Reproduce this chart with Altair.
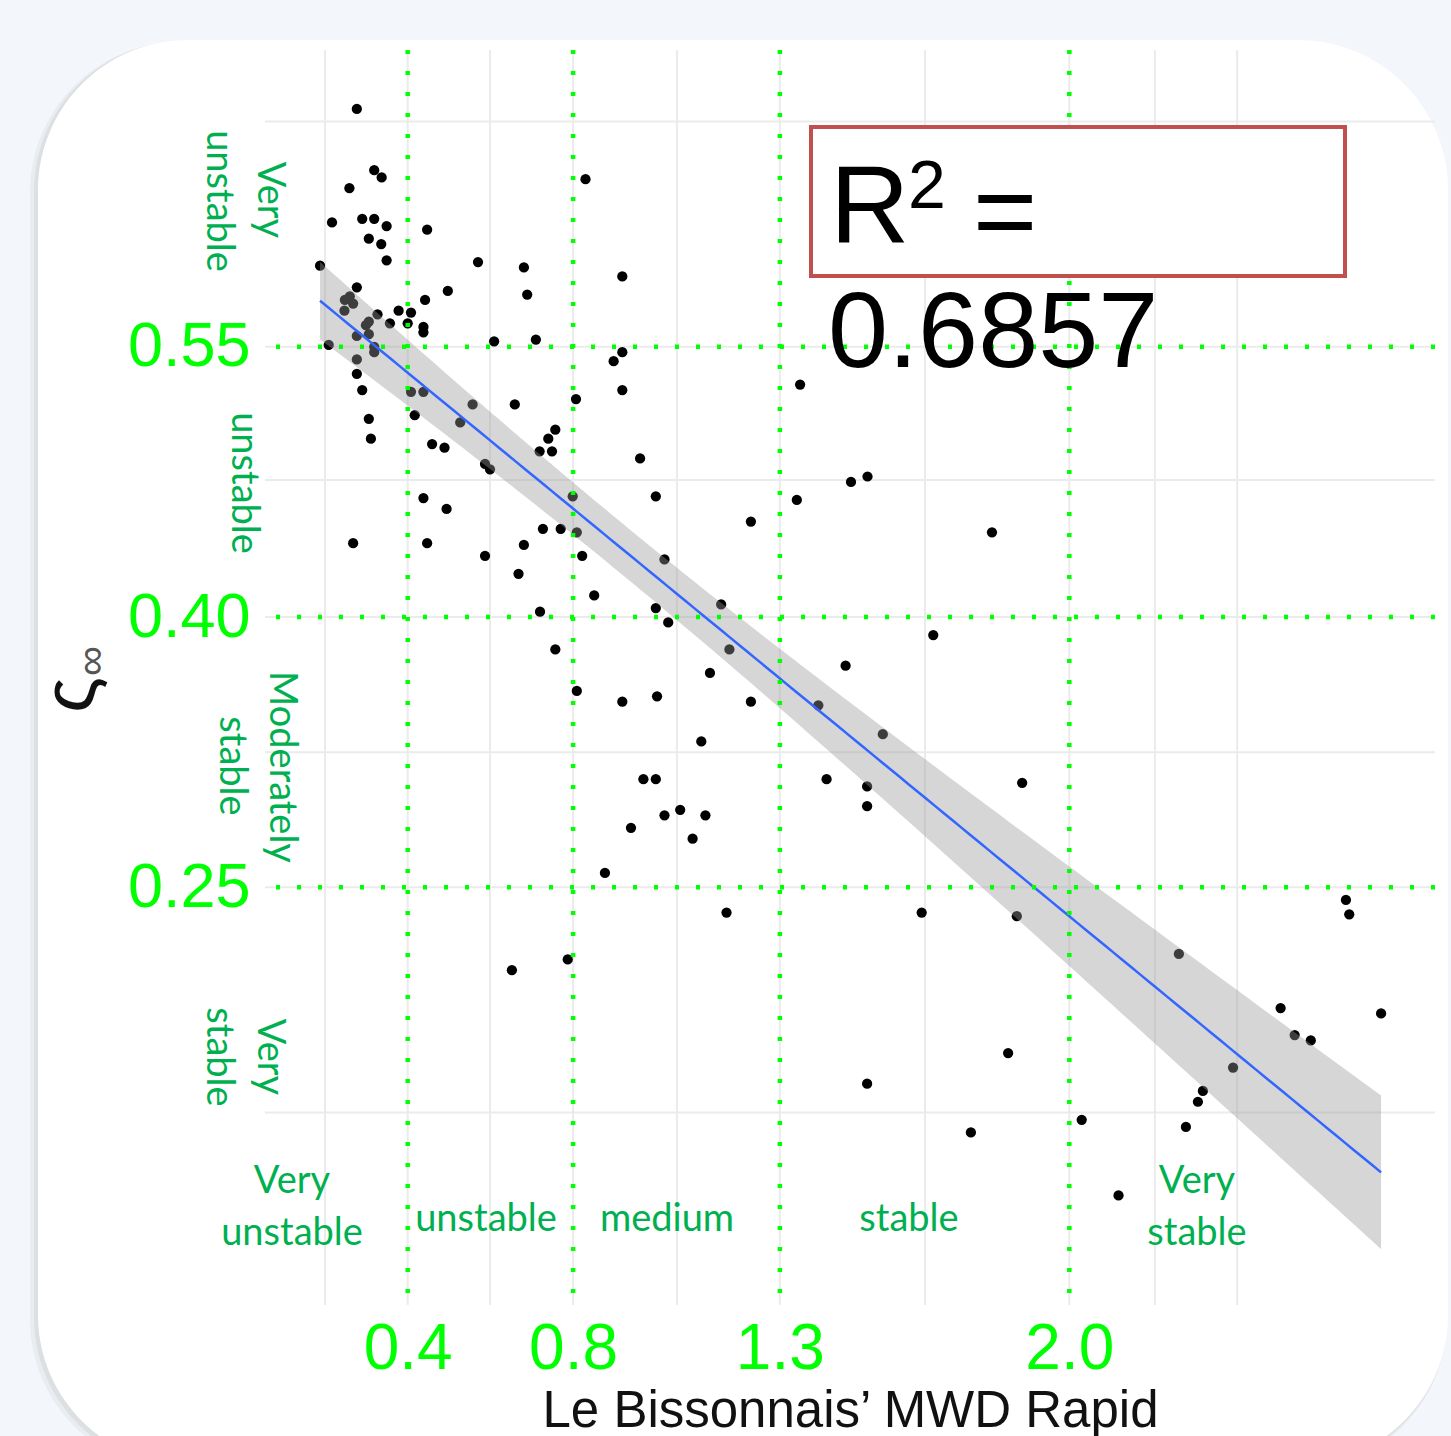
import altair as alt
import pandas as pd
import numpy as np

# ---------------- data ----------------
mwd = [0.277, 0.319, 0.337, 0.259, 0.830, 0.217, 0.290, 0.319, 0.349, 0.447,
       0.306, 0.336, 0.349, 0.570, 0.681, 0.188, 0.919, 0.689, 0.277, 0.497,
       0.442, 0.248, 0.260, 0.268, 0.247, 0.378, 0.408, 0.327, 0.357, 0.400,
       0.438, 0.438, 0.306, 0.299, 0.277, 0.306, 0.209, 0.609, 0.710, 0.319,
       0.319, 0.277, 0.277, 0.290, 0.919, 0.898, 0.919, 0.408, 0.438, 0.807,
       0.659, 0.557, 0.417, 0.527, 0.306, 0.311, 0.459, 0.489, 0.757, 0.740,
       0.719, 0.749, 0.962, 0.587, 0.599, 0.438, 0.799, 1.349, 1.000, 1.472,
       1.512, 1.341, 0.494, 0.268, 0.447, 0.587, 0.681, 0.668, 0.727, 0.770,
       0.809, 0.822, 0.851, 1.000, 0.720, 0.757, 0.809, 0.919, 1.003, 0.970,
       1.000, 0.940, 0.877, 1.230, 1.813, 1.021, 1.030, 1.158, 1.178, 1.671,
       1.459, 1.131, 1.230, 1.393, 1.549, 1.110, 1.413, 1.511, 1.511, 1.886,
       1.021, 1.059, 1.120, 1.089, 0.652, 0.787, 1.171, 1.643, 1.873, 1.852,
       1.511, 1.762, 2.669, 2.677, 2.265, 2.754, 2.511, 2.545, 2.584, 2.396,
       2.323, 2.311, 2.030, 2.282, 2.119]
sinf = [0.682, 0.648, 0.644, 0.638, 0.643, 0.619, 0.621, 0.621, 0.617, 0.615,
        0.610, 0.607, 0.598, 0.597, 0.594, 0.595, 0.589, 0.579, 0.583, 0.581,
        0.576, 0.576, 0.578, 0.574, 0.570, 0.570, 0.569, 0.568, 0.563, 0.563,
        0.561, 0.558, 0.564, 0.562, 0.556, 0.557, 0.551, 0.553, 0.554, 0.550,
        0.547, 0.543, 0.535, 0.526, 0.547, 0.542, 0.526, 0.525, 0.525, 0.521,
        0.518, 0.518, 0.512, 0.508, 0.510, 0.499, 0.496, 0.494, 0.504, 0.499,
        0.492, 0.492, 0.488, 0.485, 0.482, 0.466, 0.467, 0.529, 0.467, 0.475,
        0.478, 0.465, 0.460, 0.441, 0.441, 0.434, 0.440, 0.424, 0.449, 0.449,
        0.447, 0.434, 0.412, 0.405, 0.403, 0.382, 0.359, 0.353, 0.356, 0.310,
        0.310, 0.283, 0.258, 0.453, 0.447, 0.432, 0.397, 0.407, 0.382, 0.390,
        0.373, 0.369, 0.353, 0.351, 0.335, 0.331, 0.310, 0.306, 0.295, 0.308,
        0.290, 0.293, 0.290, 0.277, 0.204, 0.210, 0.236, 0.236, 0.234, 0.158,
        0.141, 0.114, 0.243, 0.235, 0.213, 0.180, 0.183, 0.168, 0.165, 0.150,
        0.137, 0.131, 0.121, 0.117, 0.079]

x_ticks = [0.4, 0.8, 1.3, 2.0]          # class limits on MWD
y_ticks = [0.25, 0.40, 0.55]            # class limits on the y variable
grid_x = [0.200, 0.599, 1.051, 1.651, 2.207, 2.406] + x_ticks
grid_y = [0.125, 0.325, 0.476, 0.675] + y_ticks

x_labels_h = ["Very", "unstable", "unstable", "medium", "stable", "Very", "stable"]
y_labels_v = ["Very", "unstable", "unstable", "Moderately", "stable", "Very", "stable"]
r2_value = "0.6857"

# ---------------- linear fit with 95% confidence band ----------------
xa = np.array(mwd)
ya = np.array(sinf)
n = len(xa)
xbar, ybar = xa.mean(), ya.mean()
sxx = ((xa - xbar) ** 2).sum()
slope = ((xa - xbar) * (ya - ybar)).sum() / sxx
inter = ybar - slope * xbar
resid = ya - (inter + slope * xa)
s = np.sqrt((resid ** 2).sum() / (n - 2))
t_crit = 1.978
xs = np.linspace(xa.min(), xa.max(), 120)
fit = inter + slope * xs
se = s * np.sqrt(1.0 / n + (xs - xbar) ** 2 / sxx)
fit_df = pd.DataFrame({"x": xs, "fit": fit, "lo": fit - t_crit * se, "hi": fit + t_crit * se})

pts = pd.DataFrame({"mwd": mwd, "sinf": sinf})
gx = pd.DataFrame({"gx": grid_x})
gy = pd.DataFrame({"gy": grid_y})
vx = pd.DataFrame({"vx": x_ticks})
vy = pd.DataFrame({"vy": y_ticks})

W, H = 1170, 1255
L, T = 265, 50
xs_ = alt.Scale(domain=[0.0549, 2.8844], nice=False, zero=False)
ys_ = alt.Scale(domain=[0.0182, 0.7147], nice=False, zero=False)

one = pd.DataFrame({"a": [0]})

GREEN = "#00ff00"
CLASS = "#00b050"
AR = "Liberation Sans"

XAX = alt.Axis(values=x_ticks, format=".1f", labelColor=GREEN, labelFont=AR,
               labelFontSize=64, ticks=False, domain=False, grid=False,
               labelPadding=12, zindex=2,
               title="Le Bissonnais\u2019 MWD Rapid", titleFont=AR,
               titleFontSize=51, titleFontWeight="normal", titleColor="#111111",
               titleX=W / 2, titleY=121, titleAlign="center",
               titleBaseline="alphabetic")
YAX = alt.Axis(values=y_ticks, format=".2f", labelColor=GREEN, labelFont=AR,
               labelFontSize=63, ticks=False, domain=False, grid=False,
               labelPadding=15, title="", zindex=2)


def X(f):
    return alt.X(f, scale=xs_, axis=XAX)


def Y(f):
    return alt.Y(f, scale=ys_, axis=YAX)


def txt(text, x, y, size, font, color, angle=0, align="center"):
    return alt.Chart(one).mark_text(text=text, font=font, fontSize=size, angle=angle,
                                    align=align, baseline="alphabetic", color=color).encode(
        x=alt.value(x), y=alt.value(y))


shadow1 = alt.Chart(one).mark_rect(cornerRadius=150, fill="#000000", opacity=0.04).encode(
    x=alt.value(-235), x2=alt.value(W + 12), y=alt.value(-8), y2=alt.value(1420))
shadow2 = alt.Chart(one).mark_rect(cornerRadius=150, fill="#000000", opacity=0.05).encode(
    x=alt.value(-231), x2=alt.value(W + 12), y=alt.value(-9), y2=alt.value(1418))
panel = alt.Chart(one).mark_rect(cornerRadius=150, fill="#ffffff").encode(
    x=alt.value(-227), x2=alt.value(W + 13), y=alt.value(-10), y2=alt.value(1415))

gridx = alt.Chart(gx).mark_rule(color="#ebebeb", strokeWidth=2).encode(x=X("gx:Q"))
gridy = alt.Chart(gy).mark_rule(color="#ebebeb", strokeWidth=2).encode(y=Y("gy:Q"))

points = alt.Chart(pts).mark_circle(color="#000000", opacity=1).encode(
    x=X("mwd:Q"), y=Y("sinf:Q"), size=alt.value(105))

band = alt.Chart(fit_df).mark_area(color="#999999", opacity=0.4).encode(
    x=X("x:Q"), y=Y("lo:Q"), y2="hi:Q")
line = alt.Chart(fit_df).mark_line(color="#3366ff", strokeWidth=2.5).encode(
    x=X("x:Q"), y=Y("fit:Q"))

greenx = alt.Chart(vx).mark_rule(color=GREEN, strokeWidth=4.5, strokeDash=[4, 17]).encode(
    x=X("vx:Q"))
greeny = alt.Chart(vy).mark_rule(color=GREEN, strokeWidth=4.5, strokeDash=[4, 17]).encode(
    y=Y("vy:Q"))

box = alt.Chart(one).mark_rect(fill="#ffffff", stroke="#c0504d", strokeWidth=4).encode(
    x=alt.value(546), x2=alt.value(1080), y=alt.value(77), y2=alt.value(226))

texts = [
    txt("R", 565, 192, 110, AR, "#000000", align="left"),
    txt("2", 643, 158, 68, AR, "#000000", align="left"),
    txt("=", 708, 198, 110, AR, "#000000", align="left"),
    txt(r2_value, 563, 317, 108, AR, "#000000", align="left"),
    txt("\u03c2", -171, 645, 74, AR, "#111111", angle=270),
    txt("\u221e", -160, 611, 42, AR, "#555555", angle=270),
]
hx = [27, 27, 221, 402, 644, 932, 932]
hy = [1143, 1195, 1181, 1181, 1181, 1143, 1195]
for t, a, b in zip(x_labels_h, hx, hy):
    texts.append(txt(t, a, b, 38, "Lato", CLASS))
vxp = [-7, -58, -33, 5, -45, -7, -58]
vyp = [150, 151, 433, 717, 716, 1007, 1007]
for t, a, b in zip(y_labels_v, vxp, vyp):
    texts.append(txt(t, a, b, 38, "Lato", CLASS, angle=90))

chart = alt.layer(
    shadow1, shadow2, panel, gridx, gridy, points, band, line, greenx, greeny,
    box, *texts
).properties(
    width=W, height=H,
    autosize=alt.AutoSizeParams(type="none"),
    padding={"left": L, "top": T, "right": 1451 - L - W, "bottom": 1436 - T - H},
    background="#f3f6fa",
).configure_view(stroke=None)

chart.save("out.html", embed_options={"renderer": "svg", "actions": False})
